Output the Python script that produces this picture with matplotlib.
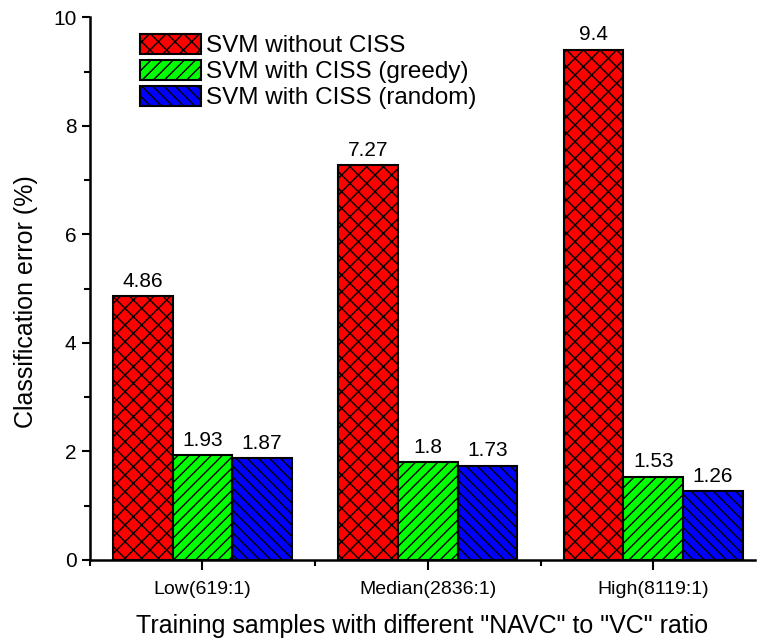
import numpy as np
import matplotlib
matplotlib.use("Agg")
import matplotlib.pyplot as plt
from matplotlib.ticker import MultipleLocator, FixedLocator

plt.rcParams["font.family"] = ["Liberation Sans", "DejaVu Sans"]
plt.rcParams["hatch.linewidth"] = 1.0

categories = ["Low(619:1)", "Median(2836:1)", "High(8119:1)"]
series_names = ["SVM without CISS", "SVM with CISS (greedy)", "SVM with CISS (random)"]
without_ciss = [4.86, 7.27, 9.4]
greedy = [1.93, 1.8, 1.53]
random_sel = [1.87, 1.73, 1.26]

colors = ["#ff0000", "#00ff00", "#0000ff"]
hatches = ["xx", "///", "\\\\\\"]

fig = plt.figure(figsize=(7.6, 6.39), dpi=100)
ax = fig.add_axes([0.118, 0.124, 0.875, 0.849])

x = np.arange(len(categories))
w = 0.265
for i, (vals, name) in enumerate(zip([without_ciss, greedy, random_sel], series_names)):
    bars = ax.bar(x + (i - 1) * w, vals, w, color=colors[i], edgecolor="black",
                  hatch=hatches[i], linewidth=1.5, label=name)
    for b, v in zip(bars, vals):
        ax.text(b.get_x() + b.get_width() / 2, v + 0.1, f"{v:g}",
                ha="center", va="bottom", fontsize=15)

ax.set_xlim(-0.5, 2.45)
ax.set_ylim(0, 10)
ax.set_xticks(x)
ax.set_xticklabels(categories, fontsize=14)
ax.xaxis.set_minor_locator(FixedLocator([-0.5, 0.5, 1.5]))
ax.yaxis.set_major_locator(MultipleLocator(2))
ax.yaxis.set_minor_locator(MultipleLocator(1))
ax.tick_params(axis="y", labelsize=15, direction="out", length=6, width=1.5)
ax.tick_params(axis="x", direction="out", length=7, width=1.5, pad=8)
ax.tick_params(which="minor", direction="out", length=4, width=1.5)

for s in ["top", "right"]:
    ax.spines[s].set_visible(False)
for s in ["left", "bottom"]:
    ax.spines[s].set_linewidth(1.8)

ax.set_ylabel("Classification error (%)", fontsize=18)
ax.yaxis.set_label_coords(-0.077, 0.475)
ax.set_xlabel('Training samples with different "NAVC" to "VC" ratio', fontsize=18, labelpad=12)

ax.legend(loc="upper left", bbox_to_anchor=(0.05, 1.0), frameon=False, fontsize=17.5,
          handlelength=2.5, handleheight=0.85, labelspacing=0.12, handletextpad=0.2,
          borderaxespad=0.3)

fig.savefig("out.png", dpi=100)
